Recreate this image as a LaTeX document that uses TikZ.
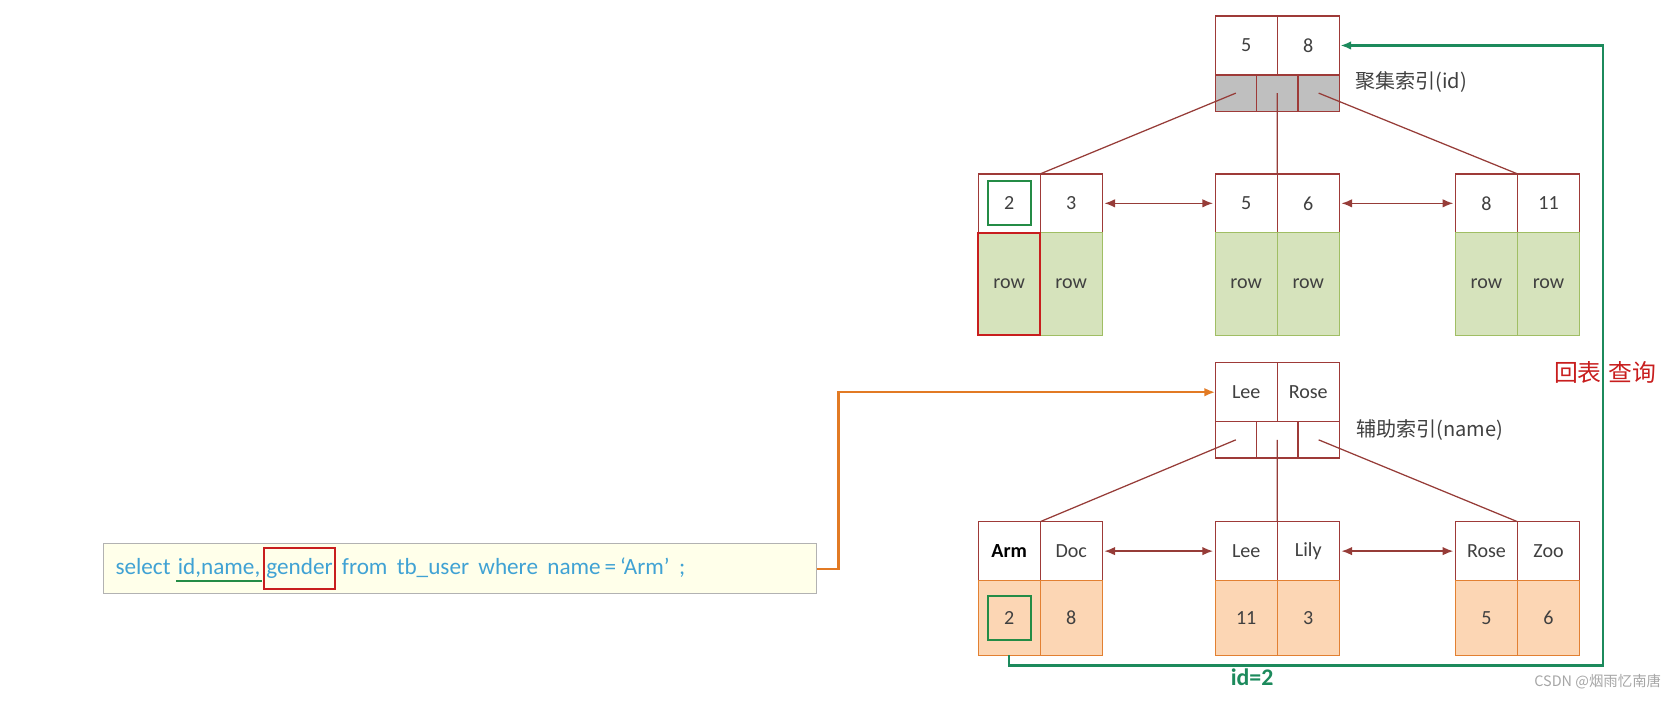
\documentclass[tikz,border=0pt]{standalone}
\usepackage{fontspec}
\setmainfont{Carlito}
\newfontfamily\cjk{Noto Sans CJK SC}
\usetikzlibrary{positioning,arrows.meta}
\definecolor{boxred}{RGB}{158,58,56}
\definecolor{linkred}{RGB}{150,60,56}
\definecolor{rowfill}{RGB}{214,227,188}
\definecolor{rowline}{RGB}{160,190,100}
\definecolor{valfill}{RGB}{252,214,180}
\definecolor{valline}{RGB}{226,128,50}
\definecolor{ptrgray}{RGB}{191,191,191}
\definecolor{backgreen}{RGB}{28,138,92}
\definecolor{hitgreen}{RGB}{36,140,70}
\definecolor{hitred}{RGB}{200,30,30}
\definecolor{queryorange}{RGB}{226,122,36}
\definecolor{sqlblue}{RGB}{64,162,212}
\definecolor{sqlfill}{RGB}{255,255,234}
\definecolor{inkgray}{RGB}{64,64,64}
\newlength\px
\setlength\px{0.03cm}
\newcommand\cellfont{\fontsize{16}{19}\selectfont}

\begin{document}
\begin{tikzpicture}[x=0.03cm,y=-0.03cm,>={Latex[length=3mm,width=2.4mm]},node distance=0pt,
  keycell/.style={draw=boxred,line width=1pt,fill=white,minimum width=58\px,minimum height=55\px,inner sep=0pt,outer sep=0pt,font=\cellfont,text=inkgray},
  ptrcell/.style={draw=boxred,line width=1pt,fill=#1,minimum width=38.67\px,minimum height=34\px,inner sep=0pt,outer sep=0pt},
  rowcell/.style={draw=rowline,line width=1pt,fill=rowfill,minimum width=58\px,minimum height=96\px,inner sep=0pt,outer sep=0pt,font=\cellfont,text=inkgray},
  valcell/.style={draw=valline,line width=1pt,fill=valfill,minimum width=58\px,minimum height=70\px,inner sep=0pt,outer sep=0pt,font=\cellfont,text=inkgray},
  treeline/.style={draw=linkred,line width=1pt},
  sibling/.style={<->,draw=linkred,line width=1.2pt,shorten <=2\px,shorten >=2\px},
  hitbox/.style={draw=#1,line width=1.6pt,inner sep=0pt,minimum width=40\px,minimum height=41\px},
  sqlword/.style={font=\fontsize{18.5}{22}\selectfont,text=sqlblue,inner sep=1pt,text height=13pt,text depth=4pt},
  idxlabel/.style={font=\fontsize{16}{19}\cjk,text=inkgray,anchor=west,inner sep=0pt},
  querylink/.style={->,draw=queryorange,line width=2pt},
  backlink/.style={->,draw=backgreen,line width=2pt,shorten >=1\px}]
\useasboundingbox (0,0) rectangle (1568,656);

% clustered index
\node[keycell] (ck5) at (1164.5,42.5) {5};
\node[keycell,right=of ck5] (ck8) {8};
\node[ptrcell=ptrgray,anchor=north west] (cp1) at (ck5.south west) {};
\node[ptrcell=ptrgray,right=of cp1] (cp2) {};
\node[ptrcell=ptrgray,right=of cp2] (cp3) {};
\node[idxlabel] (clabel) at (1266,77) {聚集索引(id)};

\node[keycell] (ca2) at (943,190) {2};
\node[keycell,right=of ca2] (ca3) {3};
\node[keycell] (cb5) at (1164.5,190) {5};
\node[keycell,right=of cb5] (cb6) {6};
\node[keycell] (cc8) at (1389,190) {8};
\node[keycell,right=of cc8] (cc11) {11};
\foreach \k in {ca2,ca3,cb5,cb6,cc8,cc11}
  \node[rowcell,below=of \k] (r\k) {row};
\node[hitbox=hitgreen] (hk2) at (ca2.center) {};
\node[hitbox=hitred,minimum width=58\px,minimum height=96\px] (hrow) at (rca2.center) {};

\draw[treeline] (cp1.center) -- (ca2.north east);
\draw[treeline] (cp2.center) -- (cb5.north east);
\draw[treeline] (cp3.center) -- (cc8.north east);
\draw[sibling] (ca3.east) -- (cb5.west);
\draw[sibling] (cb6.east) -- (cc8.west);

% secondary index
\node[keycell] (sk1) at (1164.5,366.5) {Lee};
\node[keycell,right=of sk1] (sk2) {Rose};
\node[ptrcell=white,anchor=north west] (sp1) at (sk1.south west) {};
\node[ptrcell=white,right=of sp1] (sp2) {};
\node[ptrcell=white,right=of sp2] (sp3) {};
\node[idxlabel] (slabel) at (1267,402) {辅助索引(name)};

\node[keycell,text=black,font=\cellfont\bfseries] (sarm) at (943,515) {Arm};
\node[keycell,right=of sarm] (sdoc) {Doc};
\node[keycell] (slee) at (1164.5,515) {Lee};
\node[keycell,right=of slee] (slily) {Lily};
\node[keycell] (srose) at (1389,515) {Rose};
\node[keycell,right=of srose] (szoo) {Zoo};
\node[valcell,below=of sarm] (sv2) {2};
\node[valcell,below=of sdoc] (sv8) {8};
\node[valcell,below=of slee] (sv11) {11};
\node[valcell,below=of slily] (sv3) {3};
\node[valcell,below=of srose] (sv5) {5};
\node[valcell,below=of szoo] (sv6) {6};
\node[hitbox=hitgreen] (hv2) at (sv2.center) {};

\draw[treeline] (sp1.center) -- (sarm.north east);
\draw[treeline] (sp2.center) -- (slee.north east);
\draw[treeline] (sp3.center) -- (srose.north east);
\draw[sibling] (sdoc.east) -- (slee.west);
\draw[sibling] (slily.east) -- (srose.west);

% sql statement
\node[draw=gray!60,fill=sqlfill,line width=0.8pt,minimum width=666\px,minimum height=47\px,inner sep=0pt] (sql) at (430,531.5) {};
\node[sqlword,anchor=west] (w1) at ([xshift=10\px]sql.west) {select};
\node[sqlword,right=4\px of w1] (w2) {id,name,};
\node[sqlword,right=1\px of w2,draw=hitred,line width=1.6pt,minimum height=38\px,inner xsep=2pt] (w3) {gender};
\node[sqlword,right=4\px of w3] (w4) {from\hspace{0.4em}tb\_user\hspace{0.4em}where\hspace{0.4em}name\,=\,`Arm'\hspace{0.4em};};
\draw[draw=hitgreen,line width=1.5pt] (w2.south west) -- (w2.south east);

% lookup paths
\draw[querylink] (sql.east) -- ++(20,0) |- (sk1.west);
\coordinate (back) at (1498,622);
\draw[backlink] (sv2.south) |- (back) |- (ck8.east);
\node[font=\fontsize{19}{22}\selectfont\bfseries,text=backgreen] (idtext) at (1170,633) {id=2};
\node[font=\fontsize{19}{22}\cjk,text=hitred,inner sep=0pt] (huibiao) at (1500,348) {回表\hspace{0.3em}查询};
\node[font=\fontsize{11.5}{13}\cjk,text=gray!70,inner sep=0pt] (mark) at (1493,637) {CSDN @烟雨忆南唐};
\end{tikzpicture}
\end{document}
